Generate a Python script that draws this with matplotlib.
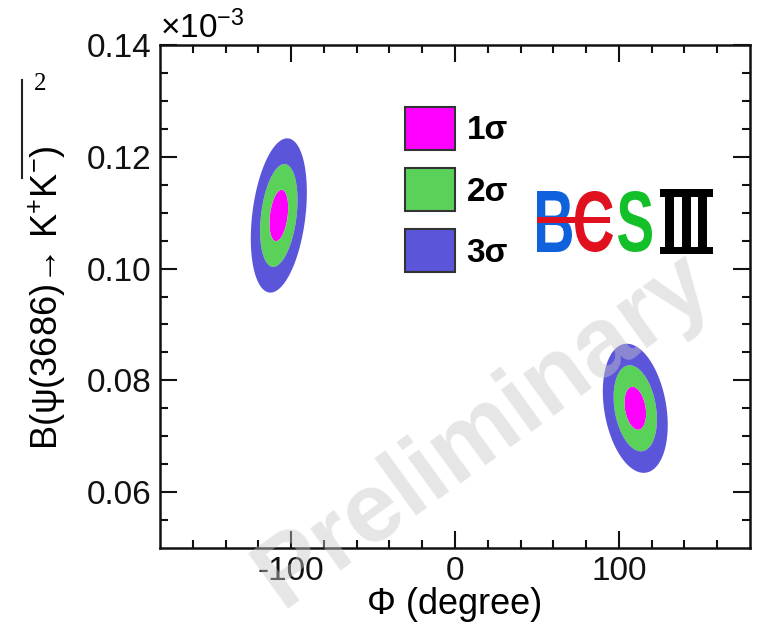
import numpy as np
import matplotlib.pyplot as plt
from matplotlib.patches import Patch, PathPatch, Rectangle
from matplotlib.textpath import TextPath
from matplotlib.font_manager import FontProperties
from matplotlib.lines import Line2D
import matplotlib.transforms as mtransforms

plt.rcParams['font.family'] = ['Liberation Sans', 'DejaVu Sans']
plt.rcParams['mathtext.fontset'] = 'custom'
plt.rcParams['mathtext.rm'] = 'Liberation Sans'
plt.rcParams['mathtext.it'] = 'Liberation Sans:italic'
plt.rcParams['mathtext.bf'] = 'Liberation Sans:bold'
plt.rcParams['axes.unicode_minus'] = False

# two solutions of the fit (Phi in degree, B in units of 1e-3)
phi_centre = [-107.5, 110.0]
br_centre = [0.1095, 0.0750]
phi_sigma = [5.7, 6.6]
br_sigma = [0.0046, 0.00385]
correlation = [0.30, -0.26]

chi2_levels = [0, 1, 4, 9]
level_labels = ['1σ', '2σ', '3σ']
level_colors = ['#ff00ff', '#5ad25a', '#5b55da']

W, H = 764, 626
fig = plt.figure(figsize=(W / 100, H / 100), dpi=100)
ax = fig.add_axes([160 / W, 1 - 548 / H, 590 / W, 503 / H])

phi = np.linspace(-180, 180, 1441)
br = np.linspace(0.05, 0.14, 901)
P, B = np.meshgrid(phi, br)
dchi2 = np.full(P.shape, np.inf)
for pc, bc, sp, sb, r in zip(phi_centre, br_centre, phi_sigma, br_sigma, correlation):
    u = (P - pc) / sp
    v = (B - bc) / sb
    q = (u**2 - 2 * r * u * v + v**2) / (1 - r**2)
    dchi2 = np.minimum(dchi2, q)

ax.contourf(P, B, dchi2, levels=chi2_levels, colors=level_colors, antialiased=True)

ax.set_xlim(-180, 180)
ax.set_ylim(0.05, 0.14)
ax.set_xticks([-100, 0, 100])
ax.set_xticks(np.arange(-160, 180, 20), minor=True)
ax.set_yticks([0.06, 0.08, 0.10, 0.12, 0.14])
ax.set_yticklabels(['0.06', '0.08', '0.10', '0.12', '0.14'])
ax.set_yticks(np.arange(0.055, 0.14, 0.005), minor=True)
ax.tick_params(which='both', direction='in', top=True, right=True, width=1.5, labelsize=24, colors='#111111')
ax.tick_params(which='major', length=12, pad=6)
ax.tick_params(which='minor', length=6)
for s in ax.spines.values():
    s.set_linewidth(1.8)
    s.set_color('#111111')

ax.set_xlabel('Φ (degree)', fontsize=26, labelpad=0)
fig.text(160 / W, 1 - 38 / H, r'$\times$10$^{-3}$', fontsize=24, ha='left', va='baseline')

# y label (partly cut off at left edge like the original)
fig.text(47 / W, 1 - 298 / H, 'B(ψ(3686)→ $\\mathrm{K}^{+}\\mathrm{K}^{-}$)', rotation=90,
         fontsize=26, ha='center', va='center')
fig.add_artist(Line2D([22 / W, 22 / W], [1 - 80 / H, 1 - 178 / H], color='#222222', lw=1.5))
fig.text(40 / W, 1 - 84 / H, '2', fontsize=18, ha='center', va='center', family='Liberation Serif')

# legend
handles = [Patch(facecolor=c, edgecolor='#333333', linewidth=1.5) for c in level_colors]
fig.legend(handles, level_labels, loc='upper left', bbox_to_anchor=(405 / W, 1 - 107 / H),
           frameon=False, prop={'weight': 'bold', 'size': 24},
           handlelength=1.5, handleheight=1.6, labelspacing=0.55, handletextpad=0.35, borderpad=0,
           borderaxespad=0)

# BESIII logo
def glyph(ch, x0, x1, y0, y1, color, prop):
    tp = TextPath((0, 0), ch, size=1, prop=prop)
    ext = tp.get_extents()
    tr = mtransforms.Affine2D().translate(-ext.x0, -ext.y0).scale(
        (x1 - x0) / ext.width / W, (y1 - y0) / ext.height / H).translate(x0 / W, 1 - y1 / H)
    fig.add_artist(PathPatch(tr.transform_path(tp), facecolor=color, edgecolor='none',
                             transform=fig.transFigure))

def block(x0, x1, y0, y1, color):
    fig.add_artist(Rectangle((x0 / W, 1 - y1 / H), (x1 - x0) / W, (y1 - y0) / H,
                             facecolor=color, edgecolor='none', transform=fig.transFigure))

sans_b = FontProperties(family='Liberation Sans', weight='bold')
glyph('B', 537, 572, 191, 252, '#1062dc', sans_b)
glyph('C', 575, 613, 191, 252, '#e0101e', sans_b)
block(537, 610, 217, 223, '#e0101e')
glyph('S', 618, 652, 191, 252, '#14c02a', sans_b)
# roman numeral III
block(660, 713, 189, 197, '#000000')
block(660, 713, 247, 254, '#000000')
for sx in [665, 682, 698]:
    block(sx, sx + 9, 196, 248, '#000000')

# watermark
fig.text(484 / W, 1 - 430 / H, 'Preliminary', rotation=36, fontsize=71, fontweight='bold',
         color='#c8c8c8', alpha=0.45, ha='center', va='center', rotation_mode='anchor')

fig.savefig('out.png', dpi=100)
